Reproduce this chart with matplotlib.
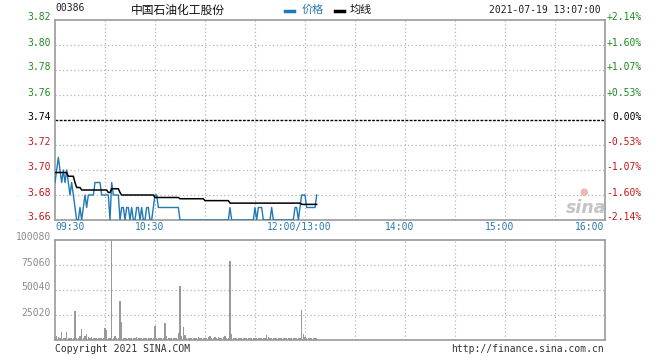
import matplotlib
matplotlib.use("Agg")
import matplotlib.pyplot as plt
from matplotlib.lines import Line2D
import matplotlib.transforms as mtransforms

plt.rcParams['font.family'] = ['DejaVu Sans Mono', 'Noto Sans CJK SC']

# ---------------- data ----------------
code = "00386"
name = "中国石油化工股份"
stamp = "2021-07-19 13:07:00"
prev_close = 3.74

price_ticks = [3.66, 3.68, 3.70, 3.72, 3.74, 3.76, 3.78, 3.80, 3.82]
price_tick_labels = ["3.66", "3.68", "3.70", "3.72", "3.74", "3.76", "3.78", "3.80", "3.82"]
pct_tick_labels = ["-2.14%", "-1.60%", "-1.07%", "-0.53%", "0.00%", "+0.53%", "+1.07%", "+1.60%", "+2.14%"]

time_ticks = [0, 60, 150, 210, 270, 330]          # minutes of trading since 09:30
time_tick_labels = ["09:30", "10:30", "12:00/13:00", "14:00", "15:00", "16:00"]

vol_ticks = [25020, 50040, 75060, 100080]
vol_tick_labels = ["25020", "50040", "75060", "100080"]

# one value per trading minute, 09:30 .. 13:07
price = [
    3.69, 3.70, 3.71, 3.70, 3.69, 3.70, 3.69, 3.70, 3.69, 3.68,
    3.69, 3.68, 3.67, 3.66, 3.66, 3.67, 3.66, 3.67, 3.68, 3.67,
    3.68, 3.68, 3.68, 3.68, 3.69, 3.69, 3.69, 3.69, 3.68, 3.68,
    3.68, 3.68, 3.68, 3.66, 3.69, 3.68, 3.68, 3.68, 3.68, 3.66,
    3.67, 3.67, 3.66, 3.67, 3.67, 3.66, 3.67, 3.66, 3.66, 3.67,
    3.67, 3.66, 3.67, 3.66, 3.66, 3.67, 3.67, 3.66, 3.66, 3.67,
    3.68, 3.68, 3.67, 3.67, 3.67, 3.67, 3.67, 3.67, 3.67, 3.67,
    3.67, 3.67, 3.67, 3.67, 3.67, 3.66, 3.66, 3.66, 3.66, 3.66,
    3.66, 3.66, 3.66, 3.66, 3.66, 3.66, 3.66, 3.66, 3.66, 3.66,
    3.66, 3.66, 3.66, 3.66, 3.66, 3.66, 3.66, 3.66, 3.66, 3.66,
    3.66, 3.66, 3.66, 3.66, 3.66, 3.67, 3.66, 3.66, 3.66, 3.66,
    3.66, 3.66, 3.66, 3.66, 3.66, 3.66, 3.66, 3.66, 3.66, 3.66,
    3.67, 3.66, 3.67, 3.67, 3.67, 3.66, 3.66, 3.66, 3.66, 3.66,
    3.67, 3.66, 3.66, 3.66, 3.66, 3.66, 3.66, 3.66, 3.66, 3.66,
    3.66, 3.66, 3.66, 3.66, 3.67, 3.67, 3.66, 3.67, 3.68, 3.68,
    3.68, 3.67, 3.67, 3.67, 3.67, 3.67, 3.67, 3.68,
]

avg_price = [
    3.698, 3.698, 3.698, 3.698, 3.698, 3.698, 3.698, 3.698, 3.695, 3.695,
    3.695, 3.695, 3.690, 3.686, 3.686, 3.686, 3.684, 3.684, 3.684, 3.684,
    3.684, 3.684, 3.684, 3.684, 3.684, 3.684, 3.684, 3.684, 3.684, 3.684,
    3.684, 3.684, 3.682, 3.682, 3.685, 3.685, 3.685, 3.685, 3.685, 3.682,
    3.680, 3.680, 3.680, 3.680, 3.680, 3.680, 3.680, 3.680, 3.680, 3.680,
    3.680, 3.680, 3.680, 3.680, 3.680, 3.680, 3.680, 3.680, 3.680, 3.680,
    3.678, 3.678, 3.678, 3.678, 3.678, 3.678, 3.678, 3.678, 3.678, 3.678,
    3.678, 3.678, 3.678, 3.678, 3.678, 3.677, 3.677, 3.677, 3.677, 3.677,
    3.677, 3.677, 3.677, 3.677, 3.677, 3.677, 3.677, 3.677, 3.677, 3.677,
    3.6755, 3.6755, 3.6755, 3.6755, 3.6755, 3.6755, 3.6755, 3.6755, 3.6755, 3.6755,
    3.6755, 3.6755, 3.6755, 3.6755, 3.6755, 3.6735, 3.6735, 3.6735, 3.6735, 3.6735,
    3.6735, 3.6735, 3.6735, 3.6735, 3.6735, 3.6735, 3.6735, 3.6735, 3.6735, 3.6735,
    3.6735, 3.6735, 3.6735, 3.6735, 3.6735, 3.6735, 3.6735, 3.6735, 3.6735, 3.6735,
    3.6735, 3.6735, 3.6735, 3.6735, 3.6735, 3.6735, 3.6735, 3.6735, 3.6735, 3.6735,
    3.6735, 3.6735, 3.6735, 3.6735, 3.6735, 3.6735, 3.6735, 3.6735, 3.6725, 3.6725,
    3.6725, 3.6725, 3.6725, 3.6725, 3.6725, 3.6725, 3.6725, 3.6725,
]

volume = [
    3000, 4000, 3000, 2000, 8300, 2000, 1800, 8300, 2000, 1800,
    1800, 2000, 29000, 1800, 2000, 4000, 11000, 2500, 4000, 6000,
    3000, 2500, 3000, 2500, 2000, 1800, 2500, 2000, 1800, 2500,
    12000, 10000, 2500, 2000, 100080, 2500, 4000, 2000, 1800, 39300,
    18000, 2000, 1800, 1800, 2000, 1800, 2500, 1800, 2500, 3000,
    2000, 2500, 2500, 2000, 2500, 2000, 2500, 1800, 2000, 2500,
    13700, 2000, 2500, 1800, 2500, 2000, 17000, 4000, 2000, 1800,
    2000, 1800, 1800, 2000, 7000, 54000, 4000, 13000, 5000, 2500,
    2000, 1800, 2000, 2500, 1800, 2000, 3000, 2500, 2000, 1800,
    2500, 2000, 3500, 4500, 2500, 2000, 3000, 2500, 3500, 2500,
    2000, 3000, 4000, 2500, 2500, 79000, 6000, 2000, 1800, 2000,
    1800, 2000, 1800, 1800, 2000, 1800, 2000, 1800, 2000, 1800,
    2000, 1800, 1800, 2000, 1800, 2000, 2500, 5000, 3500, 2000,
    1800, 2000, 1800, 1800, 2000, 1800, 1800, 2000, 2500, 2000,
    1800, 2000, 1800, 1800, 2000, 1800, 2500, 2000, 30000, 6000,
    3500, 2500, 2000, 1800, 2500, 1800, 2000, 1800,
]

minutes = list(range(len(price)))

# ---------------- styling ----------------
GREEN = "#1e8a1e"
RED = "#c01818"
BLUE = "#2a7ab5"
LINE_BLUE = "#2078b4"
BORDER = "#9a9a9a"
GRID = "#b4b4b4"
VOLC = "#999999"

fig = plt.figure(figsize=(6.6, 3.6), dpi=100)
W, H = 660, 360

def axrect(l, t, r, b):
    return [l / W, (H - b) / H, (r - l) / W, (b - t) / H]

ax = fig.add_axes(axrect(55, 20, 605, 220))
axv = fig.add_axes(axrect(55, 240, 605, 340))

for a in (ax, axv):
    a.set_xlim(0, 330)
    a.set_xticks([])
    a.set_yticks([])
    for s in a.spines.values():
        s.set_color(BORDER)
        s.set_linewidth(1.2)
    for xv in range(30, 330, 30):
        a.axvline(xv, color=GRID, lw=0.9, ls=(0, (1, 2)), zorder=1)

ax.set_ylim(3.66, 3.82)
axv.set_ylim(0, 100080)

# horizontal grid (price)
for p in price_ticks[1:-1]:
    if abs(p - prev_close) < 1e-9:
        ax.axhline(p, color="black", lw=1.0, ls=(0, (2, 1)), zorder=2)
    else:
        ax.axhline(p, color=GRID, lw=0.9, ls=(0, (1, 2)), zorder=1)
for v in vol_ticks[:-1]:
    axv.axhline(v, color=GRID, lw=0.9, ls=(0, (1, 2)), zorder=1)

# series
ax.plot(minutes, price, color=LINE_BLUE, lw=1.0, zorder=3)
ax.plot(minutes, avg_price, color="black", lw=1.1, zorder=4)
axv.bar(minutes, volume, width=0.62, color=VOLC, linewidth=0, antialiased=False, zorder=3)

# price labels left / percent labels right
up = mtransforms.ScaledTranslation(0, 2.5 / 100, fig.dpi_scale_trans)
tl = mtransforms.blended_transform_factory(ax.transAxes, ax.transData) + up
for p, lab, pl in zip(price_ticks, price_tick_labels, pct_tick_labels):
    if p > prev_close + 1e-9:
        c = GREEN
    elif p < prev_close - 1e-9:
        c = RED
    else:
        c = "black"
    ax.text(-4 / 550, p, lab, transform=tl, ha="right", va="center", fontsize=7, color=c)
    ax.text(1 + 37 / 550, p, pl, transform=tl, ha="right", va="center", fontsize=7, color=c)

tlv = mtransforms.blended_transform_factory(axv.transAxes, axv.transData) + up
for v, lab in zip(vol_ticks, vol_tick_labels):
    axv.text(-4 / 550, v, lab, transform=tlv, ha="right", va="center", fontsize=7, color="#8c8c8c")

# time labels
tt = mtransforms.blended_transform_factory(ax.transData, ax.transAxes)
n = len(time_ticks)
for i, (t, lab) in enumerate(zip(time_ticks, time_tick_labels)):
    if i == 0:
        ha, xx = "left", t
    elif i == n - 1:
        ha, xx = "right", t - 0.6
    else:
        ha, xx = "center", t - 3.3
    ax.text(xx, -7 / 200, lab, transform=tt, ha=ha, va="center", fontsize=7, color=BLUE)

# header
fig.text(55 / W, 1 - 8 / H, code, ha="left", va="center", fontsize=7, color="#222222")
fig.text(178 / W, 1 - 10 / H, name, ha="center", va="center", fontsize=8.5,
         color="#111111", family=["Noto Sans CJK SC", "DejaVu Sans"])
fig.add_artist(Line2D([285 / W, 294 / W], [1 - 11 / H, 1 - 11 / H], color=LINE_BLUE, lw=2.5,
                      transform=fig.transFigure))
fig.text(302 / W, 1 - 10 / H, "价格", ha="left", va="center", fontsize=8, color=BLUE,
         family=["Noto Sans CJK SC", "DejaVu Sans"])
fig.add_artist(Line2D([335 / W, 344 / W], [1 - 11 / H, 1 - 11 / H], color="black", lw=2.5,
                      transform=fig.transFigure))
fig.text(350 / W, 1 - 10 / H, "均线", ha="left", va="center", fontsize=8, color="#111111",
         family=["Noto Sans CJK SC", "DejaVu Sans"])
fig.text(601 / W, 1 - 10 / H, stamp, ha="right", va="center", fontsize=7, color="#222222")

# footer
fig.text(55 / W, 1 - 349 / H, "Copyright 2021 SINA.COM", ha="left", va="center",
         fontsize=7, color="#333333")
fig.text(604 / W, 1 - 349 / H, "http://finance.sina.com.cn", ha="right", va="center",
         fontsize=7, color="#333333")

# watermark
fig.text(586 / W, 1 - 208 / H, "sina", ha="center", va="center", fontsize=12.5,
         style="italic", weight="bold", color="#c4c4c4", family="DejaVu Sans")
fig.text(584 / W, 1 - 192 / H, "●", ha="center", va="center", fontsize=7,
         color="#f3b4b4", family="DejaVu Sans")

fig.savefig("out.png", dpi=100)
